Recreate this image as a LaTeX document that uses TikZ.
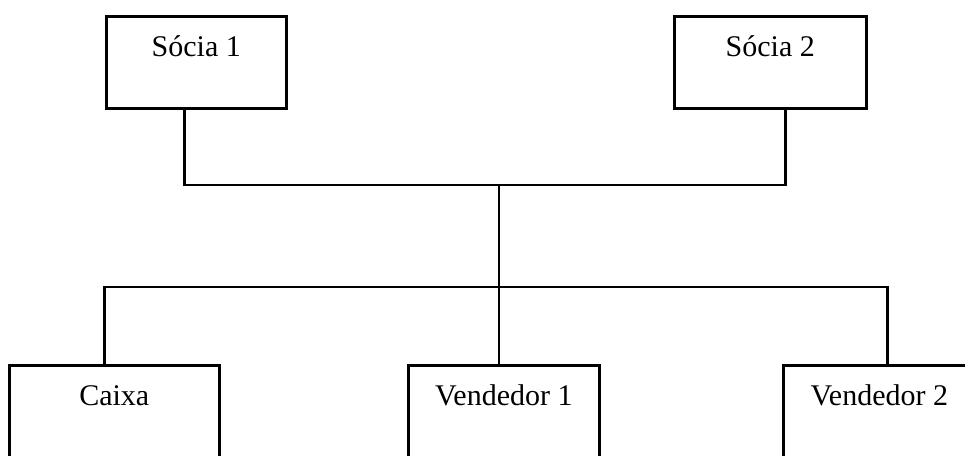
\documentclass[tikz,border=0pt]{standalone}
\usepackage{fontspec}
\setmainfont{Liberation Serif}
\begin{document}
\begin{tikzpicture}[x=1pt,y=-1pt,
  orgbox/.style={draw, line width=2.6pt, rectangle, inner xsep=0pt, inner ysep=0pt,
    font=\fontsize{30}{36}\selectfont, text height=40pt},
  link/.style={line width=2.8pt}]
  \clip (0,0) rectangle (965,455);
  \fill[white] (0,0) rectangle (965,455);

  % partners
  \node[orgbox, minimum width=180pt, text depth=52pt, anchor=north west] (s1) at (105,15) {Sócia 1};
  \node[orgbox, minimum width=192pt, text depth=52pt, anchor=north west] (s2) at (673,15) {Sócia 2};

  % staff (boxes run past the lower edge)
  \node[orgbox, minimum width=210pt, text depth=80pt, anchor=north west] (cx) at (8,364) {Caixa};
  \node[orgbox, minimum width=191pt, text depth=80pt, anchor=north west] (v1) at (407,364) {Vendedor 1};
  \node[orgbox, minimum width=192pt, text depth=80pt, anchor=north west] (v2) at (782,364) {Vendedor 2};

  % junction points of the tree
  \coordinate (j1) at (499,185);
  \coordinate (j2) at (499,287);

  \draw[link] ([xshift=-12pt]s1.south) |- (j1) -| ([xshift=15pt]s2.south);
  \draw[link] (j1) -- (j2);
  \draw[link] ([xshift=-10pt]cx.north) |- (j2) -| ([xshift=8pt]v2.north);
  \draw[link] (j2) -- (j2 |- v1.north);
\end{tikzpicture}
\end{document}
